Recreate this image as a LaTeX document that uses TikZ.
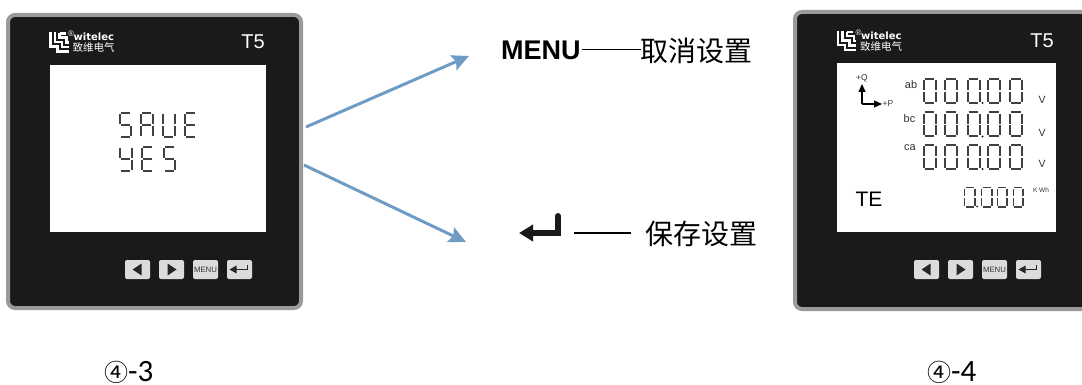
\documentclass[tikz,border=0pt]{standalone}
\usepackage{fontspec}
\setmainfont{Liberation Sans}
\newfontfamily\cjk{Noto Sans CJK SC}
\newfontfamily\dejavu{DejaVu Sans}
\newfontfamily\carl{Carlito}
\usetikzlibrary{arrows.meta}
\definecolor{panelblack}{HTML}{1C1A19}
\definecolor{panelgray}{HTML}{9A9A9A}
\definecolor{btngray}{HTML}{DCDCDA}
\definecolor{arrowblue}{HTML}{6F9CC4}
\def\sga{(.1,0)--(.9,0)}
\def\sgb{(1,.06)--(1,.46)}
\def\sgc{(1,.54)--(1,.94)}
\def\sgd{(.1,1)--(.9,1)}
\def\sge{(0,.54)--(0,.94)}
\def\sgf{(0,.06)--(0,.46)}
\def\sgg{(.1,.5)--(.9,.5)}
\newcommand\dig[6][2pt]{%
  \begin{scope}[shift={(#2,#3)},x=#4pt,y=-#5pt]
    \foreach \s in {#6}{\draw[line width=#1,black!75] \csname sg\s\endcsname;}
  \end{scope}}
\tikzset{
  panelbox/.style={draw=panelgray,line width=4pt,fill=panelblack,rounded corners=7pt},
  lcd/.style={fill=white,draw=none},
  btn/.style={fill=btngray,draw=none,rounded corners=2pt},
  flow/.style={draw=arrowblue,line width=3pt,-{Stealth[length=17pt,width=16pt,inset=3pt]}},
  tag/.style={inner sep=0pt,text=black},
  wlabel/.style={inner sep=0pt,text=white},
  pics/logo/.style={code={
    \draw[white,line width=2.3pt,line cap=butt]
      (1,0)--(1,14)--(8,14)--(8,19)--(19,19)
      (5.5,0)--(5.5,9.5)--(12.5,9.5)--(12.5,14.5)--(19,14.5)
      (10,1)--(10,5)--(17,5)--(17,10)--(19,10)
      (10,1)--(16,1);
    \node[wlabel,font=\fontsize{8}{8}\selectfont] at (21.5,1.5) {®};
    \node[wlabel,anchor=west,font=\dejavu\bfseries\fontsize{10}{10}\selectfont] at (24,4.5) {witelec};
    \node[wlabel,anchor=west,font=\cjk\fontsize{10.5}{11}\selectfont] at (23,15.5) {致维电气};
  }},
  pics/btnrow/.style={code={
    \node[btn,minimum width=25pt,minimum height=19pt,inner sep=0pt] (-l) at (13,9.5) {};
    \node[btn,minimum width=25pt,minimum height=19pt,inner sep=0pt] (-r) at (47,9.5) {};
    \node[btn,minimum width=25pt,minimum height=19pt,inner sep=0pt,text=black!80,font=\fontsize{7.8}{8}\selectfont] (-m) at (81,9.5) {MENU};
    \node[btn,minimum width=25pt,minimum height=19pt,inner sep=0pt] (-e) at (115,9.5) {};
    \fill[black!85] (8,9.5)--(17,3.5)--(17,15.5)--cycle;
    \fill[black!85] (52,9.5)--(43,3.5)--(43,15.5)--cycle;
    \draw[black!85,line width=1.8pt] (123,5)--(123,9.5)--(110,9.5);
    \fill[black!85] (105,9.5)--(112,5.5)--(112,13.5)--cycle;
  }},
  x=1pt,y=-1pt
}
\begin{document}
\begin{tikzpicture}
\useasboundingbox (0,0) rectangle (1082,385);
\clip (0,0) rectangle (1082,385);
% left panel
\node[panelbox,minimum width=293pt,minimum height=293pt,inner sep=0pt] (panelA) at (154.5,161.5) {};
\node[lcd,minimum width=216pt,minimum height=167pt,inner sep=0pt] (lcdA) at (158,148.5) {};
\pic at (49.5,32.5) {logo};
\node[wlabel,font=\fontsize{20}{20}\selectfont] (tA) at (253,41.5) {T5};
\pic (ba) at (124.5,260) {btnrow};
% SAVE
\dig{119.5}{113}{11.5}{24}{a,f,g,c,d}
\dig{141}{113}{11.5}{24}{a,b,c,e,f,g}
\dig{163}{113}{11.5}{24}{b,c,d,e,f}
\dig{185}{113}{11}{24}{a,d,e,f,g}
\dig{120}{147}{11.5}{24}{b,c,d,f,g}
\dig{142}{147}{11}{24}{a,d,e,f,g}
\dig{164}{147}{11}{24}{a,f,g,c,d}
% right panel
\node[panelbox,minimum width=340pt,minimum height=297pt,inner sep=0pt] (panelB) at (965,160.5) {};
\node[lcd,minimum width=219pt,minimum height=169pt,inner sep=0pt] (lcdB) at (946.5,147.5) {};
\pic at (837,31) {logo};
\node[wlabel,font=\fontsize{20}{20}\selectfont] (tB) at (1042,40.5) {T5};
\pic (bb) at (913.5,260) {btnrow};
% axes
\coordinate (oo) at (862,104);
\coordinate (qq) at (862,84);
\coordinate (pp) at (882,104);
\draw[black,line width=1.2pt,-{Triangle[length=8pt,width=7pt]}] (oo)--(qq);
\draw[black,line width=1.2pt,-{Triangle[length=8pt,width=7pt]}] (oo)--(pp);
\node[tag,font=\fontsize{8.5}{9}\selectfont,text=black!80] (lq) at (862,78) {+Q};
\node[tag,font=\fontsize{8.5}{9}\selectfont,text=black!75] (lp) at (888,104) {+P};
\node[tag,font=\fontsize{11}{11}\selectfont,text=black!80] (lab) at (911,84.5) {ab};
\node[tag,font=\fontsize{11}{11}\selectfont,text=black!80] (lbc) at (909.5,118.5) {bc};
\node[tag,font=\fontsize{11}{11}\selectfont,text=black!80] (lca) at (910,148) {ca};
\node[tag,font=\fontsize{10.5}{11}\selectfont,text=black!80] (v1) at (1042,99.5) {V};
\node[tag,font=\fontsize{10.5}{11}\selectfont,text=black!80] (v2) at (1042,132.5) {V};
\node[tag,font=\fontsize{10.5}{11}\selectfont,text=black!80] (v3) at (1042,164) {V};
\node[tag,font=\fontsize{21}{21}\selectfont] (te) at (869,199) {TE};
\node[tag,font=\fontsize{6.5}{7}\selectfont,text=black!80] (kwh) at (1041,190.5) {K Wh};
% digits
\foreach \yy in {79,112.5,145}{
  \dig{923.5}{\yy}{12}{24}{a,b,c,d,e,f}
  \dig{945}{\yy}{12}{24}{a,b,c,d,e,f}
  \dig{967.5}{\yy}{12}{24}{a,b,c,d,e,f}
  \dig{988}{\yy}{12}{24}{a,b,c,d,e,f}
  \dig{1010}{\yy}{12}{24}{a,b,c,d,e,f}
  \fill[black!85] (982.5,\yy+24) circle (1.1pt);
}
\dig[1.7pt]{964.5}{187.5}{10.5}{19.5}{a,b,c,d,e,f}
\fill[black!85] (977,206.5) circle (1pt);
\dig[1.7pt]{981.5}{187.5}{10.5}{19.5}{a,b,c,d,e,f}
\dig[1.7pt]{997.5}{187.5}{9.5}{19.5}{a,b,c,d,e,f}
\dig[1.7pt]{1013.5}{187.5}{9.5}{19.5}{a,b,c,d,e,f}
% arrows
\coordinate (a1s) at (306,127);
\coordinate (a1e) at (469,56);
\coordinate (a2s) at (304,165);
\coordinate (a2e) at (466,242);
\draw[flow] (a1s)--(a1e);
\draw[flow] (a2s)--(a2e);
% labels
\node[tag,anchor=base west,font=\bfseries\fontsize{27}{27}\selectfont] (menu) at (501,60) {MENU};
\coordinate (d1s) at (582,49.5);
\coordinate (d1e) at (641,49.5);
\draw[black,line width=1.5pt] (d1s)--(d1e);
\node[tag,anchor=west,font=\cjk\fontsize{28}{29}\selectfont] (cancel) at (640,51) {取消设置};
% enter icon
\coordinate (e1) at (558,216);
\coordinate (e2) at (558,233);
\coordinate (e3) at (519,233);
\draw[black!90,line width=6pt,line cap=round,-{Triangle[length=14pt,width=16pt]}] (e1)--(e2)--(e3);
\coordinate (d2s) at (574,233);
\coordinate (d2e) at (631,233);
\draw[black,line width=1.5pt] (d2s)--(d2e);
\node[tag,anchor=west,font=\cjk\fontsize{28}{29}\selectfont] (save) at (645,234) {保存设置};
% captions
\node[tag,anchor=base west] (c3) at (104,381) {{\cjk\fontsize{24}{24}\selectfont ④}{\carl\fontsize{31}{31}\selectfont -3}};
\node[tag,anchor=base west] (c4) at (927,381) {{\cjk\fontsize{24}{24}\selectfont ④}{\carl\fontsize{31}{31}\selectfont -4}};
\end{tikzpicture}
\end{document}
